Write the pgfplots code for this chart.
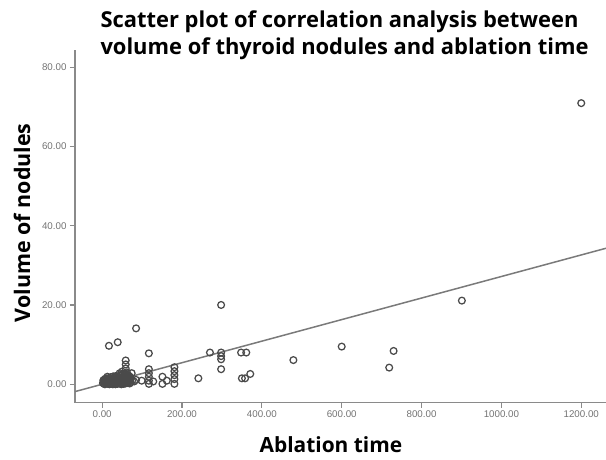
\documentclass[border=0pt]{standalone}
\usepackage{fontspec}
\setmainfont{Liberation Sans}
\newfontfamily\titlefont{Open Sans}
\usepackage{pgfplots}
\pgfplotsset{compat=1.18}

\definecolor{axisgray}{HTML}{8A8A8A}
\definecolor{markgray}{HTML}{4A4A4A}
\definecolor{linegray}{HTML}{7A7A7A}

\begin{document}
\begin{tikzpicture}
\useasboundingbox (-75bp,-57.5bp) rectangle (531bp,402.5bp);
\begin{axis}[
    scale only axis,
    width=531bp, height=352.5bp,
    xmin=-68, xmax=1262,
    ymin=-4.6, ymax=84.3,
    axis lines*=left,
    axis line style={axisgray, line width=1.6bp},
    xtick={0,200,...,1200},
    ytick={0,20,...,80},
    tick align=outside,
    major tick length=5bp,
    tick style={axisgray, line width=1.1bp},
    tick label style={font=\fontsize{9.8}{10}\selectfont, text=black!55},
    /pgf/number format/.cd, fixed, fixed zerofill, precision=2, 1000 sep={}, assume math mode=true,
    /pgfplots/.cd,
    xlabel={Ablation time},
    ylabel={Volume of nodules},
    xlabel style={at={(axis description cs:0.482,-0.1206)}, anchor=center,
        font=\titlefont\bfseries\fontsize{21}{24}\selectfont},
    ylabel style={at={(axis description cs:-0.0998,0.51)}, anchor=center,
        font=\titlefont\bfseries\fontsize{21.5}{24}\selectfont},
    clip=false,
]
% regression line
\addplot[linegray, line width=1.5bp, no marks] coordinates {(-68,-1.85) (1262,34.3)};
% observations
\addplot[only marks, mark=o, mark size=3.4bp, mark options={markgray, line width=1.25bp}] coordinates {
(1200,70.9) (901,21.1) (600,9.5) (730,8.4) (719,4.2) (479,6.1)
(298,20.0) (270,8.0) (298,8.0) (298,7.1) (298,6.3) (298,3.8)
(348,8.0) (361,8.0) (241,1.5) (350,1.5) (358,1.5) (371,2.6)
(85,14.1) (17,9.7) (39,10.6) (117,7.8)
(59,6.0) (59,5.0) (59,4.0)
(117,3.8) (117,2.8) (117,1.9) (117,0.9) (117,0.1)
(181,4.3) (181,3.3) (181,2.3) (181,1.3) (181,0.1)
(151,1.9) (162,0.9) (151,0.1) (128,0.7) (99,0.9) (74,2.8)
(50,3.2) (55,2.3)
(2,0.3) (4,0.8) (5,0.1) (6,1.2) (8,0.5) (9,0.2) (10,1.0) (11,0.6) (12,1.5) (13,0.3)
(14,0.9) (15,0.1) (16,1.3) (17,0.5) (18,0.8) (19,0.2) (20,1.1) (21,0.4) (22,1.8) (23,0.7)
(24,0.1) (25,1.0) (26,0.4) (27,1.4) (28,0.6) (29,0.2) (30,0.9) (31,1.6) (32,0.3) (33,0.7)
(34,1.2) (35,0.1) (36,0.5) (37,1.9) (38,0.8) (39,0.3) (40,1.1) (41,0.6) (42,1.5) (43,0.2)
(44,0.9) (45,2.2) (46,0.4) (47,1.3) (48,0.7) (49,1.8) (50,0.2) (51,1.0) (52,2.6) (53,0.5)
(54,1.4) (55,0.8) (56,2.0) (57,0.3) (58,1.1) (59,1.7) (60,0.6) (61,2.4) (62,0.9) (63,1.3)
(64,0.4) (65,1.9) (66,0.8) (68,1.2) (70,0.5) (72,1.6) (75,0.9) (80,0.7) (85,1.1)
(3,1.0) (5,0.6) (7,0.0) (8,1.4) (10,0.3) (12,0.8) (13,1.9) (15,0.6) (17,1.1) (18,0.0)
(20,0.7) (22,0.2) (23,1.3) (25,0.5) (27,0.0) (28,1.0) (30,0.4) (31,1.2) (33,0.0) (34,0.6)
(36,1.4) (38,0.1) (40,0.5) (41,1.7) (43,0.8) (45,0.3) (46,1.5) (48,0.0) (50,1.3) (52,0.7)
(54,0.1) (55,1.8) (57,0.9) (58,0.2) (60,1.4) (62,0.3) (63,2.0) (65,0.5) (67,1.5) (69,0.2)
(44,2.8) (48,2.4) (58,2.7) (62,3.0) (66,2.2) (70,1.9) (35,2.1) (28,2.0)
};
\end{axis}
\node[font=\titlefont\bfseries\fontsize{22}{27}\selectfont, align=left, anchor=west]
  at (22bp,367bp) {Scatter plot of correlation analysis between\\volume of thyroid nodules and ablation time};
\end{tikzpicture}
\end{document}
